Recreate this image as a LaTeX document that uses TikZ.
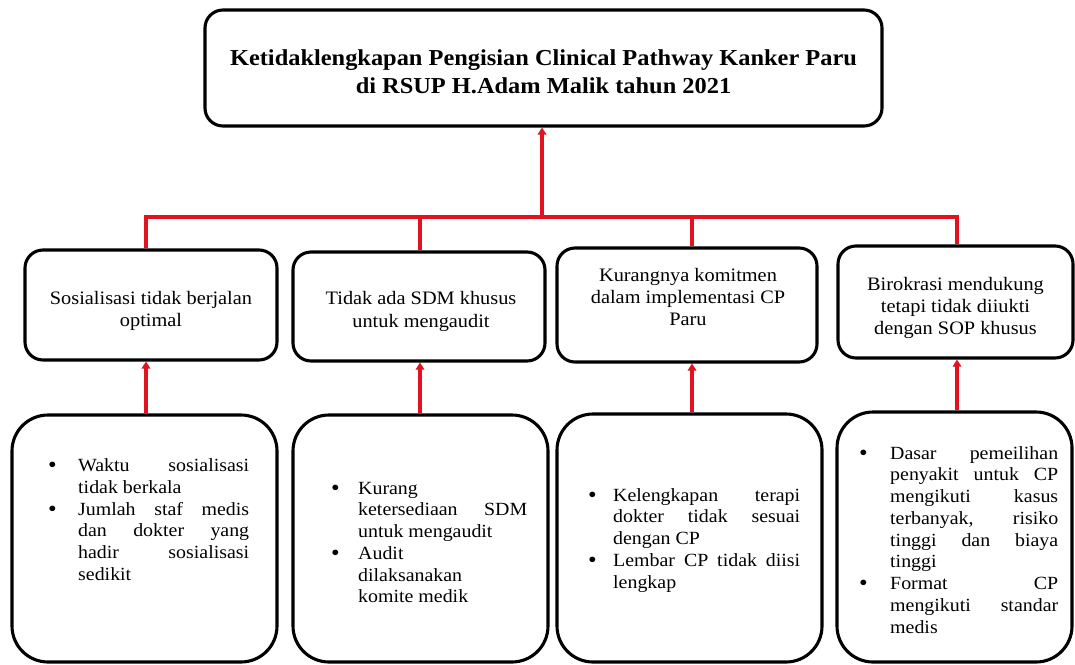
\documentclass[tikz,border=0pt]{standalone}
\usepackage{fontspec}
\setmainfont{Liberation Serif}[FakeStretch=1.07]
\usetikzlibrary{arrows.meta}
\definecolor{linkred}{RGB}{226,18,30}
\newcommand{\bulletmark}{\raisebox{-1.2pt}{\fontsize{23}{23}\selectfont\textbullet}}
% first line of an item: #1 bullet column, #2 text column, #3 line content
\newcommand{\fl}[3]{\strut\makebox[#1][l]{\bulletmark}\hbox to #2{#3}}
% continuation line of an item
\newcommand{\cl}[3]{\strut\hspace*{#1}\hbox to #2{#3}}
\tikzset{
  box/.style={draw=black, line width=3.1pt, rounded corners=18pt, fill=white, inner sep=0pt},
  bigbox/.style={box, rounded corners=36pt},
  boxtext/.style={inner sep=0pt, align=center, font=\fontsize{19}{22.2}\selectfont},
  link/.style={draw=linkred, line width=3.5pt},
  arr/.style={link, -{Triangle[length=7pt,width=8.5pt]}},
  listtext/.style={anchor=north west, inner sep=0pt, align=left,
    font=\fontsize{18.6}{21.75}\selectfont},
}
\begin{document}
\begin{tikzpicture}[x=1pt,y=-1pt]
\useasboundingbox (0,0) rectangle (1075,664);

% top box
\node[box, minimum width=677pt, minimum height=116pt] (top) at (543.5,68) {};
\node[boxtext, font=\fontsize{22.8}{28}\selectfont\bfseries] (toptext) at (543.5,72)
  {Ketidaklengkapan Pengisian Clinical Pathway Kanker Paru\\di RSUP H.Adam Malik tahun 2021};

% middle boxes
\node[box, minimum width=252pt, minimum height=110pt] (m1) at (151,305) {};
\node[box, minimum width=252pt, minimum height=109pt] (m2) at (419,306.5) {};
\node[box, minimum width=260pt, minimum height=114pt] (m3) at (687,305) {};
\node[box, minimum width=235pt, minimum height=112pt] (m4) at (955.5,302) {};
\node[boxtext] (mt1) at (151,311) {Sosialisasi tidak berjalan\\optimal};
\node[boxtext] (mt2) at (421,311.5) {Tidak ada SDM khusus\\untuk mengaudit};
\node[boxtext] (mt3) at (688,297) {Kurangnya komitmen\\dalam implementasi CP\\Paru};
\node[boxtext] (mt4) at (955.5,308) {Birokrasi mendukung\\tetapi tidak diiukti\\dengan SOP khusus};

% bottom boxes
\node[bigbox, minimum width=265pt, minimum height=247pt] (b1) at (144.5,538.5) {};
\node[bigbox, minimum width=255pt, minimum height=247pt] (b2) at (420.5,538.5) {};
\node[bigbox, minimum width=265pt, minimum height=248pt] (b3) at (689.5,538) {};
\node[bigbox, minimum width=235pt, minimum height=250pt] (b4) at (954.5,537) {};

% bottom texts
\node[listtext] (t1) at (48,456.3)
  {\fl{30pt}{171pt}{Waktu\hfill sosialisasi}\\
   \cl{30pt}{171pt}{tidak berkala\hfill}\\
   \fl{30pt}{171pt}{Jumlah\hfill staf\hfill medis}\\
   \cl{30pt}{171pt}{dan\hfill dokter\hfill yang}\\
   \cl{30pt}{171pt}{hadir\hfill sosialisasi}\\
   \cl{30pt}{171pt}{sedikit\hfill}};
\node[listtext] (t2) at (331,478.8)
  {\fl{27pt}{169pt}{Kurang\hfill}\\
   \cl{27pt}{169pt}{ketersediaan\hfill SDM}\\
   \cl{27pt}{169pt}{untuk mengaudit\hfill}\\
   \fl{27pt}{169pt}{Audit\hfill}\\
   \cl{27pt}{169pt}{dilaksanakan\hfill}\\
   \cl{27pt}{169pt}{komite medik\hfill}};
\node[listtext] (t3) at (588,485.8)
  {\fl{25pt}{187pt}{Kelengkapan\hfill terapi}\\
   \cl{25pt}{187pt}{dokter\hfill tidak\hfill sesuai}\\
   \cl{25pt}{187pt}{dengan CP\hfill}\\
   \fl{25pt}{187pt}{Lembar\hfill CP\hfill tidak\hfill diisi}\\
   \cl{25pt}{187pt}{lengkap\hfill}};
\node[listtext] (t4) at (859,443.8)
  {\fl{31pt}{168pt}{Dasar\hfill pemeilihan}\\
   \cl{31pt}{168pt}{penyakit\hfill untuk\hfill CP}\\
   \cl{31pt}{168pt}{mengikuti\hfill kasus}\\
   \cl{31pt}{168pt}{terbanyak,\hfill risiko}\\
   \cl{31pt}{168pt}{tinggi\hfill dan\hfill biaya}\\
   \cl{31pt}{168pt}{tinggi\hfill}\\
   \fl{31pt}{168pt}{Format\hfill CP}\\
   \cl{31pt}{168pt}{mengikuti\hfill standar}\\
   \cl{31pt}{168pt}{medis\hfill}};

% connectors
\coordinate (hub) at (542,217);
\coordinate (j1) at (146,217);
\coordinate (j2) at (420,217);
\coordinate (j3) at (692,217);
\coordinate (j4) at (957,217);

\draw[link] (j1 |- m1.north) -- (j1) -- (j4) -- (j4 |- m4.north);
\draw[link] (j2) -- (j2 |- m2.north);
\draw[link] (j3) -- (j3 |- m3.north);
\draw[arr] (hub) -- (hub |- top.south);

\draw[arr] (j1 |- b1.north) -- (j1 |- m1.south);
\draw[arr] (j2 |- b2.north) -- (j2 |- m2.south);
\draw[arr] (j3 |- b3.north) -- (j3 |- m3.south);
\draw[arr] (j4 |- b4.north) -- (j4 |- m4.south);
\end{tikzpicture}
\end{document}
